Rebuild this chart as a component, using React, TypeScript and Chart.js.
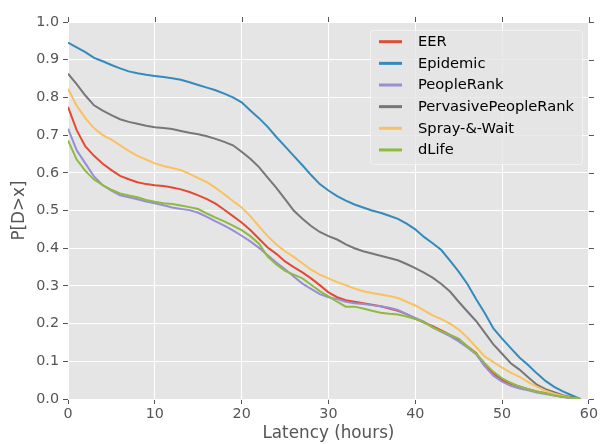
import React, { useEffect, useRef } from "react";
import { Chart, registerables } from "chart.js";

Chart.register(...registerables);

const hours = [0, 1, 2, 3, 4, 5, 6, 7, 8, 9, 10, 11, 12, 13, 14, 15, 16, 17, 18, 19, 20, 21, 22, 23, 24, 25, 26, 27, 28, 29, 30, 31, 32, 33, 34, 35, 36, 37, 38, 39, 40, 41, 42, 43, 44, 45, 46, 47, 48, 49, 50, 51, 52, 53, 54, 55, 56, 57, 58, 59];

const seriesNames = ["EER", "Epidemic", "PeopleRank", "PervasivePeopleRank", "Spray-&-Wait", "dLife"];

const eer = [0.775, 0.713, 0.67, 0.645, 0.624, 0.607, 0.592, 0.583, 0.575, 0.57, 0.567, 0.565, 0.561, 0.556, 0.549, 0.54, 0.53, 0.518, 0.502, 0.485, 0.468, 0.448, 0.425, 0.402, 0.385, 0.365, 0.35, 0.336, 0.32, 0.302, 0.283, 0.27, 0.262, 0.258, 0.254, 0.25, 0.246, 0.24, 0.234, 0.225, 0.213, 0.203, 0.193, 0.182, 0.17, 0.157, 0.14, 0.122, 0.088, 0.068, 0.05, 0.04, 0.033, 0.026, 0.02, 0.015, 0.01, 0.006, 0.003, 0.0];

const epidemic = [0.945, 0.933, 0.92, 0.905, 0.896, 0.886, 0.877, 0.869, 0.864, 0.86, 0.857, 0.854, 0.851, 0.847, 0.84, 0.833, 0.826, 0.819, 0.81, 0.8, 0.787, 0.765, 0.745, 0.722, 0.695, 0.67, 0.645, 0.62, 0.594, 0.57, 0.553, 0.538, 0.526, 0.516, 0.508, 0.5, 0.494, 0.486, 0.478, 0.465, 0.45, 0.43, 0.413, 0.395, 0.367, 0.338, 0.305, 0.265, 0.228, 0.187, 0.16, 0.135, 0.11, 0.09, 0.068, 0.048, 0.032, 0.02, 0.01, 0.0];

const peopleRank = [0.717, 0.66, 0.625, 0.59, 0.567, 0.553, 0.54, 0.535, 0.53, 0.524, 0.519, 0.514, 0.508, 0.504, 0.501, 0.494, 0.483, 0.471, 0.46, 0.447, 0.433, 0.418, 0.401, 0.381, 0.362, 0.344, 0.325, 0.306, 0.292, 0.278, 0.27, 0.265, 0.258, 0.254, 0.252, 0.249, 0.246, 0.242, 0.236, 0.225, 0.215, 0.205, 0.19, 0.178, 0.167, 0.153, 0.137, 0.119, 0.087, 0.062, 0.046, 0.035, 0.028, 0.023, 0.017, 0.013, 0.009, 0.005, 0.002, 0.0];

const pervasive = [0.863, 0.835, 0.805, 0.779, 0.765, 0.753, 0.742, 0.735, 0.73, 0.725, 0.721, 0.719, 0.716, 0.711, 0.706, 0.702, 0.697, 0.69, 0.682, 0.673, 0.656, 0.637, 0.615, 0.587, 0.56, 0.53, 0.5, 0.478, 0.459, 0.443, 0.432, 0.423, 0.41, 0.4, 0.392, 0.386, 0.38, 0.374, 0.368, 0.358, 0.347, 0.335, 0.322, 0.305, 0.285, 0.258, 0.232, 0.207, 0.176, 0.145, 0.12, 0.095, 0.078, 0.058, 0.038, 0.026, 0.018, 0.01, 0.005, 0.0];

const sprayWait = [0.823, 0.778, 0.745, 0.718, 0.7, 0.688, 0.673, 0.658, 0.645, 0.635, 0.625, 0.618, 0.613, 0.607, 0.597, 0.586, 0.575, 0.56, 0.543, 0.525, 0.508, 0.485, 0.458, 0.432, 0.41, 0.392, 0.377, 0.36, 0.343, 0.33, 0.32, 0.31, 0.302, 0.293, 0.286, 0.281, 0.277, 0.273, 0.268, 0.258, 0.248, 0.235, 0.222, 0.212, 0.2, 0.184, 0.163, 0.138, 0.113, 0.098, 0.083, 0.07, 0.059, 0.045, 0.033, 0.022, 0.014, 0.008, 0.003, 0.0];

const dLife = [0.686, 0.635, 0.605, 0.582, 0.567, 0.555, 0.545, 0.54, 0.535, 0.528, 0.523, 0.519, 0.517, 0.513, 0.509, 0.504, 0.492, 0.481, 0.471, 0.46, 0.448, 0.432, 0.412, 0.378, 0.357, 0.34, 0.33, 0.32, 0.303, 0.286, 0.272, 0.258, 0.245, 0.245, 0.24, 0.234, 0.229, 0.226, 0.224, 0.219, 0.212, 0.204, 0.19, 0.18, 0.17, 0.16, 0.14, 0.121, 0.095, 0.072, 0.055, 0.043, 0.033, 0.026, 0.02, 0.015, 0.01, 0.006, 0.003, 0.0];

const seriesValues = [eer, epidemic, peopleRank, pervasive, sprayWait, dLife];
const seriesColors = ["#E24A33", "#348ABD", "#988ED5", "#777777", "#FBC15E", "#8EBA42"];

const xTicks = [0, 10, 20, 30, 40, 50, 60];
const yTicks = [0, 0.1, 0.2, 0.3, 0.4, 0.5, 0.6, 0.7, 0.8, 0.9, 1.0];

const FONT = "'DejaVu Sans', sans-serif";

const bgPlugin = {
  id: "bgPlugin",
  beforeDraw(chart: any) {
    const { ctx, chartArea } = chart;
    ctx.save();
    ctx.fillStyle = "#E5E5E5";
    ctx.fillRect(chartArea.left, chartArea.top, chartArea.right - chartArea.left, chartArea.bottom - chartArea.top);
    ctx.restore();
  },
  afterDraw(chart: any) {
    const { ctx, chartArea, scales } = chart;
    ctx.save();
    ctx.strokeStyle = "#555555";
    ctx.lineWidth = 1;
    ctx.beginPath();
    xTicks.forEach((v) => {
      const px = Math.round(scales.x.getPixelForValue(v)) + 0.5;
      ctx.moveTo(px, chartArea.top);
      ctx.lineTo(px, chartArea.top - 5);
    });
    yTicks.forEach((v) => {
      const py = Math.round(scales.y.getPixelForValue(v)) + 0.5;
      ctx.moveTo(chartArea.right, py);
      ctx.lineTo(chartArea.right + 5, py);
    });
    ctx.stroke();
    ctx.restore();
  },
};

const legendPlugin = {
  id: "customLegend",
  afterDatasetsDraw(chart: any) {
    const ctx = chart.ctx;
    ctx.save();
    const bx = 370, by = 30, bw = 212, bh = 134;
    ctx.beginPath();
    if ((ctx as any).roundRect) (ctx as any).roundRect(bx + 0.5, by + 0.5, bw, bh, 3);
    else ctx.rect(bx + 0.5, by + 0.5, bw, bh);
    ctx.fillStyle = "rgba(229,229,229,0.8)";
    ctx.fill();
    ctx.strokeStyle = "rgba(255,255,255,0.45)";
    ctx.lineWidth = 1;
    ctx.stroke();
    const items = chart.data.datasets.slice().sort((a: any, b: any) => a.legendIndex - b.legendIndex);
    items.forEach((ds: any, i: number) => {
      const y = 41.7 + i * 21.65;
      ctx.beginPath();
      ctx.strokeStyle = ds.borderColor;
      ctx.lineWidth = 3;
      ctx.moveTo(379, y);
      ctx.lineTo(402, y);
      ctx.stroke();
      ctx.fillStyle = "#000000";
      ctx.font = `14.7px ${FONT}`;
      ctx.textBaseline = "middle";
      ctx.textAlign = "left";
      ctx.fillText(ds.label, 418, y + 0.5);
    });
    ctx.restore();
  },
};

export default function App() {
  const canvasRef = useRef<HTMLCanvasElement | null>(null);

  useEffect(() => {
    document.body.style.margin = "0";
    const canvas = canvasRef.current;
    if (!canvas) return;
    const datasets = seriesNames.map((name, i) => ({
      label: name,
      legendIndex: i,
      data: hours.map((h, j) => ({ x: h, y: seriesValues[i][j] })),
      borderColor: seriesColors[i],
      backgroundColor: seriesColors[i],
      borderWidth: 2,
      pointRadius: 0,
      tension: 0,
      fill: false,
      order: seriesNames.length - i,
    }));
    const chart = new Chart(canvas, {
      type: "line",
      data: { datasets },
      options: {
        responsive: false,
        animation: false,
        devicePixelRatio: 1,
        layout: { padding: { top: 22, right: 11, left: 0, bottom: 0 } },
        plugins: { legend: { display: false }, tooltip: { enabled: false } },
        scales: {
          x: {
            type: "linear",
            min: 0,
            max: 60,
            afterFit: (s: any) => { s.height = 45; },
            afterBuildTicks: (s: any) => { s.ticks = xTicks.map((v) => ({ value: v })); },
            border: { display: false },
            grid: { color: "#FFFFFF", lineWidth: 1, tickColor: "#555555", tickLength: 5 },
            ticks: { color: "#555555", font: { family: FONT, size: 14.3 }, padding: 2, maxRotation: 0, callback: (v: any) => String(v) },
            title: { display: true, text: "Latency (hours)", color: "#555555", font: { family: FONT, size: 16.8 }, padding: 0 },
          },
          y: {
            type: "linear",
            min: 0,
            max: 1,
            afterFit: (s: any) => { s.width = 68; },
            afterBuildTicks: (s: any) => { s.ticks = yTicks.map((v) => ({ value: v })); },
            border: { display: false },
            grid: { color: "#FFFFFF", lineWidth: 1, tickColor: "#555555", tickLength: 5 },
            ticks: { color: "#555555", font: { family: FONT, size: 14.3 }, padding: 4, callback: (v: any) => Number(v).toFixed(1) },
            title: { display: true, text: "P[D>x]", color: "#555555", font: { family: FONT, size: 16.8 }, padding: 10 },
          },
        },
      },
      plugins: [bgPlugin, legendPlugin],
    } as any);
    return () => chart.destroy();
  }, []);

  return (
    <div style={{ position: "absolute", left: 0, top: 0, width: 600, height: 444 }}>
      <canvas ref={canvasRef} width={600} height={444} style={{ display: "block" }} />
    </div>
  );
}
